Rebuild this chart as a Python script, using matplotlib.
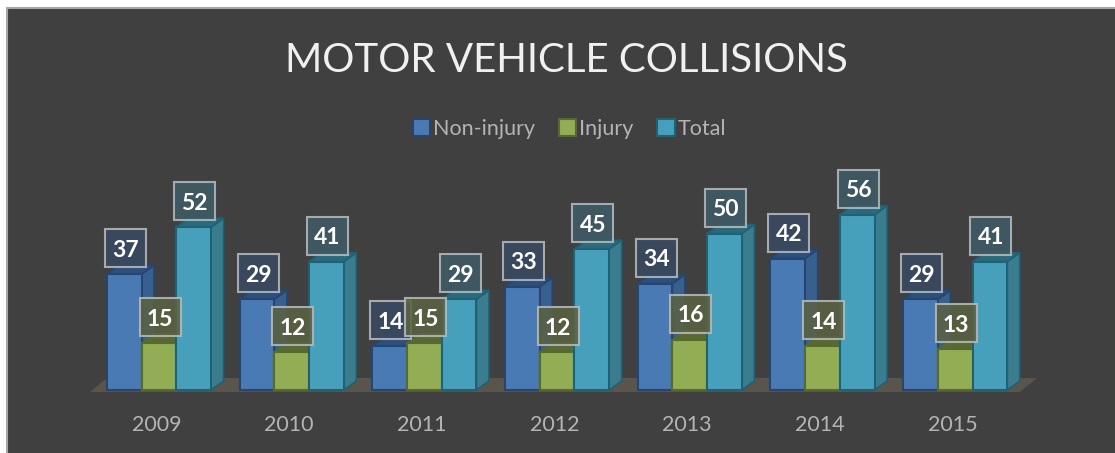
import matplotlib
matplotlib.use('Agg')
import matplotlib.pyplot as plt
from matplotlib.patches import Patch, Polygon, Rectangle

years = ['2009', '2010', '2011', '2012', '2013', '2014', '2015']
non_injury = [37, 29, 14, 33, 34, 42, 29]
injury = [15, 12, 15, 12, 16, 14, 13]
total = [52, 41, 29, 45, 50, 56, 41]
series_names = ['Non-injury', 'Injury', 'Total']
title = 'MOTOR VEHICLE COLLISIONS'

W, H = 1115, 453
BASE_PX = 390
PX_X = 1 / 132.7   # data units per pixel, x
PX_Y = 1 / 3.13    # data units per pixel, y
X0_PX = 159
BAR_W = 34.7 * PX_X
DEPTH_X = 12.5 * PX_X
DEPTH_Y = 9 * PX_Y

styles = [
    dict(front='#4a7ab4', edge='#26466f', side='#38608f', top='#2d4f7c', box='#3a4a64'),
    dict(front='#93ad55', edge='#566b2b', side='#6c8040', top='#5a6833', box='#5c6242'),
    dict(front='#47a0bb', edge='#1f6276', side='#3a7d8f', top='#2b6a7c', box='#3e5c66'),
]

plt.rcParams['font.family'] = ['Lato', 'DejaVu Sans']

fig = plt.figure(figsize=(W / 100, H / 100), dpi=100, facecolor='white')
fig.patches.append(Rectangle((6.5 / W, -0.01), 1, 1.01 - 8.5 / H, transform=fig.transFigure,
                             fc='#404040', ec='#a6a6a6', lw=1.5, zorder=-1))

ax = fig.add_axes([0, (H - BASE_PX) / H, 1, BASE_PX / H])
ax.patch.set_alpha(0)
ax.set_xlim(-X0_PX * PX_X, (W - X0_PX) * PX_X)
ax.set_ylim(0, BASE_PX * PX_Y)
for s in ax.spines.values():
    s.set_visible(False)
ax.set_yticks([])
ax.set_xticks([i - 2.5 * PX_X for i in range(len(years))])
ax.set_xticklabels(years, fontsize=15.5, color='#b4b4b4')
ax.tick_params(axis='x', length=0, pad=18)

# floor
fl = -X0_PX * PX_X
ax.add_patch(Polygon([(fl + 90 * PX_X, -2 * PX_Y), (fl + 1020 * PX_X, -2 * PX_Y),
                      (fl + 1037 * PX_X, 12 * PX_Y), (fl + 107 * PX_X, 12 * PX_Y)],
                     fc='#59544c', ec='none', clip_on=False, zorder=1))

for k, vals in enumerate([non_injury, injury, total]):
    st = styles[k]
    for i, v in enumerate(vals):
        left = i + (k - 1.5) * BAR_W
        right = left + BAR_W
        side = [(right, 0), (right + DEPTH_X, DEPTH_Y), (right + DEPTH_X, v + DEPTH_Y), (right, v)]
        top = [(left, v), (right, v), (right + DEPTH_X, v + DEPTH_Y), (left + DEPTH_X, v + DEPTH_Y)]
        z = 2 + k
        ax.add_patch(Polygon(side, fc=st['side'], ec=st['edge'], lw=1.2, zorder=z, clip_on=False))
        ax.add_patch(Polygon(top, fc=st['top'], ec=st['edge'], lw=1.2, zorder=z, clip_on=False))
        ax.bar(left, v, BAR_W, align='edge', color=st['front'], edgecolor=st['edge'], linewidth=1.5,
               zorder=z + 0.1, clip_on=False)

# data labels go over all the bars
for k, vals in enumerate([non_injury, injury, total]):
    st = styles[k]
    for i, v in enumerate(vals):
        cx = i + (k - 1) * BAR_W + 1 * PX_X
        cy = v + 26 * PX_Y
        bw, bh = 41 * PX_X, 38 * PX_Y
        ax.add_patch(Rectangle((cx - bw / 2, cy - bh / 2), bw, bh, fc=st['box'], ec='#b8bcbe', lw=1.5,
                               alpha=0.86, zorder=10 + k))
        ax.text(cx, cy, str(v), ha='center', va='center_baseline', fontsize=16.5, fontweight='bold',
                color='white', zorder=10.5 + k)

fig.text(566 / W, 1 - 60 / H, title, ha='center', va='center', fontsize=29, color='#f0f0f0')

handles = [Patch(fc=st['front'], ec=st['edge'], lw=1.5, label=n) for st, n in zip(styles, series_names)]
fig.legend(handles=handles, ncols=3, loc='center', bbox_to_anchor=(569.5 / W, 1 - 129 / H), frameon=False,
           fontsize=15.5, labelcolor='#b4b4b4', handlelength=0.8, handleheight=0.8, handletextpad=0.15,
           columnspacing=1.1)

fig.savefig('out.png', dpi=100, facecolor='white')
